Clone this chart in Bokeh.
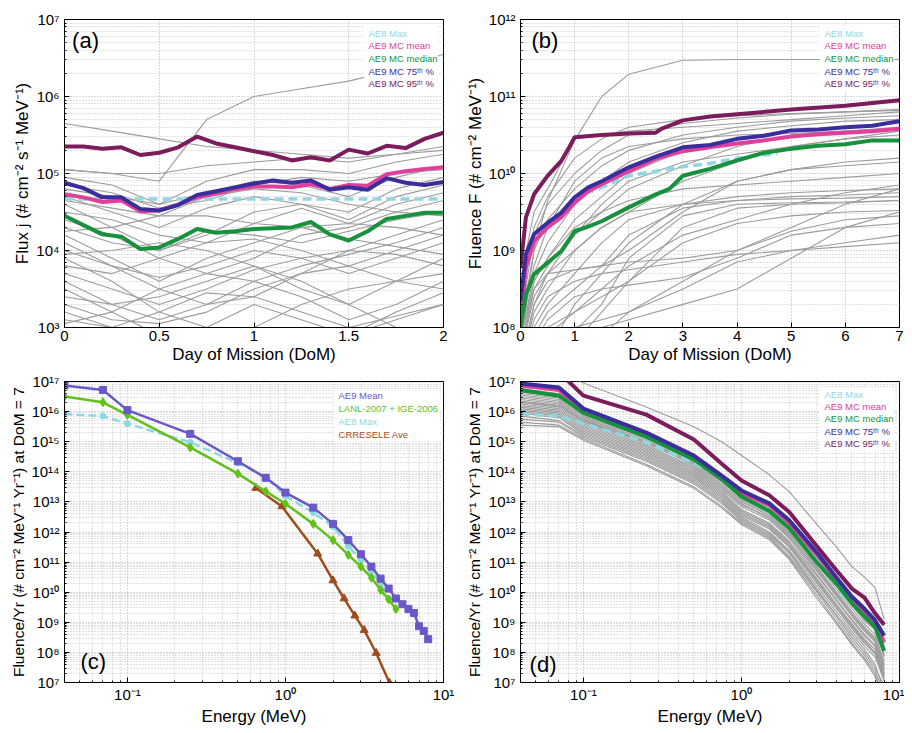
import numpy as np
from bokeh.plotting import figure
from bokeh.layouts import column, row
from bokeh.models import FixedTicker, CustomJSTickFormatter, Label, BoxAnnotation, Range1d
from bokeh.embed import file_html
from bokeh.resources import INLINE

FONT = "Liberation Sans"

# ---------------- data (log10 of the plotted values) -------------
# panel (a): flux vs day of mission
a_x = [0.0, 0.1, 0.2, 0.3, 0.4, 0.5, 0.6, 0.7, 0.8, 0.9, 1.0,
       1.1, 1.2, 1.3, 1.4, 1.5, 1.6, 1.7, 1.8, 1.9, 2.0]
a_p95 = [5.35, 5.35, 5.32, 5.34, 5.24, 5.27, 5.34, 5.48, 5.39, 5.34, 5.29,
         5.24, 5.17, 5.21, 5.17, 5.31, 5.26, 5.36, 5.33, 5.45, 5.53]
a_p75 = [4.88, 4.81, 4.69, 4.69, 4.54, 4.52, 4.59, 4.72, 4.77, 4.82, 4.87,
         4.91, 4.88, 4.91, 4.79, 4.82, 4.79, 4.94, 4.88, 4.85, 4.89]
a_mean = [4.73, 4.69, 4.63, 4.65, 4.51, 4.52, 4.60, 4.69, 4.74, 4.80, 4.83,
          4.83, 4.82, 4.86, 4.80, 4.85, 4.84, 4.99, 5.03, 5.06, 5.08]
a_median = [4.45, 4.33, 4.21, 4.18, 4.02, 4.04, 4.15, 4.28, 4.23, 4.25, 4.28,
            4.29, 4.30, 4.37, 4.21, 4.13, 4.25, 4.41, 4.45, 4.49, 4.49]
a_ae8_x = [0.0, 2.0]
a_ae8 = [4.67, 4.67]
a_gray_x = [0.0, 0.25, 0.5, 0.75, 1.0, 1.25, 1.5, 1.75, 2.0]
a_gray = [
    [5.65, 5.55, 5.45, 5.35, 5.30, 5.25, 5.20, 5.25, 5.35],
    [5.05, 5.00, 4.90, 5.70, 6.00, 6.10, 6.20, 6.35, 6.55],
    [5.05, 5.00, 5.00, 5.10, 5.15, 5.20, 5.15, 5.25, 5.30],
    [4.95, 4.85, 4.60, 4.90, 5.05, 5.05, 5.00, 5.15, 5.25],
    [4.80, 4.70, 4.60, 4.75, 4.90, 4.85, 4.70, 4.95, 5.10],
    [4.70, 4.50, 4.30, 4.55, 4.70, 4.60, 4.50, 4.80, 4.95],
    [4.60, 4.30, 4.00, 4.20, 4.50, 4.60, 4.40, 4.70, 4.85],
    [4.50, 4.40, 4.20, 4.10, 4.35, 4.55, 4.35, 4.60, 4.75],
    [4.40, 4.20, 3.90, 3.70, 3.90, 4.20, 4.30, 4.50, 4.65],
    [4.30, 4.10, 4.00, 4.25, 4.20, 4.10, 4.25, 4.40, 4.50],
    [4.20, 3.90, 3.60, 3.90, 4.10, 4.30, 4.35, 4.30, 4.20],
    [4.10, 3.80, 3.50, 3.30, 3.40, 3.70, 4.00, 4.20, 4.40],
    [4.00, 3.80, 3.65, 3.80, 4.00, 3.90, 3.70, 3.90, 4.10],
    [3.90, 3.60, 3.20, 3.00, 2.90, 2.80, 2.90, 3.10, 3.30],
    [3.80, 3.70, 3.90, 4.10, 4.15, 4.00, 3.80, 3.60, 3.50],
    [3.70, 3.50, 3.30, 3.50, 3.75, 3.90, 4.00, 3.95, 3.80],
    [3.60, 3.30, 3.10, 3.30, 3.60, 3.40, 3.10, 3.30, 3.60],
    [3.50, 3.20, 2.90, 2.80, 3.00, 3.30, 3.50, 3.60, 3.70],
    [3.40, 3.30, 3.40, 3.60, 3.80, 3.60, 3.30, 3.00, 2.90],
    [3.30, 3.10, 3.05, 3.20, 3.50, 3.70, 3.80, 4.00, 4.20],
    [3.20, 3.00, 2.80, 3.00, 3.30, 3.10, 2.90, 3.20, 3.45],
    [3.10, 3.00, 3.20, 3.45, 3.40, 3.20, 3.00, 3.15, 3.30],
    [4.65, 4.55, 4.45, 4.70, 4.80, 4.75, 4.60, 4.50, 4.45],
    [4.85, 4.75, 4.55, 4.65, 4.85, 4.95, 4.90, 5.00, 5.05],
    [3.95, 4.00, 4.10, 4.00, 3.80, 3.50, 3.30, 3.60, 3.90],
    [3.05, 3.20, 3.50, 3.70, 3.60, 3.80, 3.95, 4.10, 4.30],
    [4.25, 4.30, 4.45, 4.45, 4.35, 4.30, 4.15, 4.05, 3.95],
]

# panel (b): fluence vs day of mission
b_p95_x = [0, 0.1, 0.25, 0.5, 0.75, 0.9, 1.0, 1.5, 2.0, 2.5, 2.6, 3.0, 3.5, 4, 5, 6, 7]
b_p95 = [8.78, 9.43, 9.73, 9.97, 10.16, 10.34, 10.47, 10.50, 10.52, 10.53, 10.58,
         10.69, 10.74, 10.77, 10.83, 10.88, 10.95]
b_x = [0, 0.1, 0.25, 0.5, 0.75, 1.0, 1.25, 1.5, 2, 2.5, 3, 3.5, 4, 4.5, 5, 5.5, 6, 6.5, 7]
b_p75 = [8.34, 8.95, 9.21, 9.36, 9.49, 9.69, 9.82, 9.90, 10.08, 10.22, 10.34, 10.37,
         10.45, 10.49, 10.56, 10.57, 10.60, 10.62, 10.68]
b_mean = [8.13, 8.78, 9.12, 9.30, 9.43, 9.62, 9.77, 9.86, 10.03, 10.19, 10.29, 10.34,
          10.39, 10.43, 10.48, 10.51, 10.53, 10.55, 10.58]
b_median_x = [0, 0.1, 0.25, 0.5, 0.75, 1.0, 1.25, 1.5, 2, 2.5, 2.75, 3, 3.5, 4, 4.5,
              5, 5.5, 6, 6.5, 7]
b_median = [8.00, 8.43, 8.69, 8.84, 8.99, 9.25, 9.31, 9.38, 9.56, 9.73, 9.80, 9.97,
            10.06, 10.17, 10.27, 10.32, 10.36, 10.38, 10.43, 10.43]
b_ae8_x = [1.2, 1.5, 2, 2.5, 3, 3.5, 4, 4.5, 4.75]
b_ae8 = [9.74, 9.82, 9.97, 10.03, 10.09, 10.13, 10.20, 10.24, 10.26]
b_gray_x = [0, 0.05, 0.25, 0.5, 1, 1.5, 2, 3, 4, 5, 6, 7]
b_gray = [
    [6.5, 8.0, 9.0, 9.64, 10.43, 11.0, 11.29, 11.47, 11.48, 11.48, 11.48, 11.48],
    [6.5, 8.8, 9.5, 9.8, 10.45, 10.5, 10.55, 10.6, 10.65, 10.7, 10.75, 10.8],
    [6.5, 8.3, 9.2, 9.6, 10.0, 10.3, 10.5, 10.65, 10.72, 10.77, 10.8, 10.83],
    [6.5, 8.2, 9.0, 9.4, 9.8, 10.1, 10.3, 10.5, 10.6, 10.68, 10.72, 10.75],
    [6.5, 8.0, 8.7, 9.1, 9.6, 9.9, 10.15, 10.4, 10.55, 10.62, 10.68, 10.7],
    [6.5, 8.0, 8.6, 8.9, 9.4, 9.7, 10.0, 10.3, 10.45, 10.55, 10.6, 10.65],
    [6.5, 7.9, 8.5, 8.8, 9.2, 9.5, 9.8, 10.1, 10.35, 10.5, 10.55, 10.6],
    [6.5, 7.8, 8.4, 8.7, 9.0, 9.3, 9.5, 9.9, 10.15, 10.35, 10.45, 10.5],
    [6.5, 7.9, 8.6, 8.9, 9.3, 9.5, 9.65, 9.8, 9.85, 9.9, 9.95, 10.0],
    [6.5, 7.8, 8.5, 8.7, 8.75, 8.8, 9.0, 9.5, 9.9, 10.05, 10.15, 10.2],
    [6.5, 7.7, 8.3, 8.6, 8.75, 8.8, 8.85, 8.9, 9.0, 9.25, 9.4, 9.45],
    [6.5, 7.6, 8.2, 8.5, 9.0, 9.3, 9.5, 9.6, 9.65, 9.7, 9.72, 9.75],
    [6.5, 7.5, 8.0, 8.3, 8.7, 9.1, 9.4, 9.6, 9.7, 9.75, 9.78, 9.8],
    [6.5, 7.5, 8.1, 8.4, 8.6, 8.7, 8.75, 8.85, 8.95, 9.0, 9.05, 9.1],
    [6.5, 7.4, 7.9, 8.2, 8.5, 8.8, 9.2, 9.55, 9.65, 9.67, 9.68, 9.7],
    [6.5, 7.3, 7.8, 8.1, 8.4, 8.5, 8.55, 8.65, 8.9, 9.2, 9.3, 9.35],
    [6.5, 7.3, 7.7, 8.0, 8.2, 8.4, 8.6, 9.3, 9.55, 9.6, 9.62, 9.65],
    [6.5, 7.2, 7.6, 7.9, 8.2, 8.5, 8.8, 9.2, 9.4, 9.6, 9.75, 9.85],
    [6.5, 7.2, 7.5, 7.8, 8.0, 8.1, 8.2, 8.5, 8.85, 9.0, 9.1, 9.2],
    [6.5, 7.1, 7.4, 7.7, 7.95, 8.3, 8.9, 9.45, 9.6, 9.62, 9.63, 9.65],
    [6.5, 7.0, 7.3, 7.6, 7.9, 8.0, 8.1, 8.3, 8.5, 8.9, 9.3, 9.5],
    [6.5, 7.0, 7.2, 7.5, 7.8, 8.2, 8.6, 9.1, 9.35, 9.45, 9.5, 9.52],
    [6.5, 7.0, 7.3, 7.7, 8.3, 8.7, 9.1, 9.6, 9.9, 10.05, 10.1, 10.15],
    [6.5, 7.0, 7.2, 7.4, 7.7, 7.9, 8.2, 8.6, 9.0, 9.3, 9.6, 9.8],
    [6.5, 8.5, 9.3, 9.7, 10.2, 10.45, 10.6, 10.7, 10.75, 10.78, 10.8, 10.82],
    [6.5, 8.1, 8.8, 9.3, 9.9, 10.2, 10.35, 10.45, 10.5, 10.52, 10.55, 10.58],
    [6.5, 7.6, 8.3, 8.7, 9.2, 9.6, 9.9, 10.15, 10.25, 10.35, 10.45, 10.55],
]

# panel (c): spectra at DoM = 7
c_ae9_E = [0.04, 0.07, 0.1, 0.25, 0.5, 0.75, 1, 1.5, 2, 2.5, 3, 3.5, 4, 4.5, 5,
           5.5, 6, 6.5, 7, 7.5, 8]
c_ae9 = [16.87, 16.72, 16.05, 15.26, 14.35, 13.80, 13.31, 12.81, 12.27, 11.73, 11.26,
         10.85, 10.45, 10.12, 9.79, 9.60, 9.44, 9.31, 8.87, 8.71, 8.44]
c_lanl_E = [0.04, 0.07, 0.1, 0.25, 0.5, 0.75, 1, 1.5, 2, 2.5, 3, 3.5, 4, 4.5, 5]
c_lanl = [16.50, 16.31, 15.89, 14.81, 13.94, 13.35, 12.94, 12.27, 11.73, 11.24, 10.85,
          10.48, 10.07, 9.76, 9.44]
c_ae8_E = [0.04, 0.07, 0.1, 0.25, 0.5, 0.75, 1, 1.5, 2, 2.5, 3, 3.5, 4, 4.5]
c_ae8 = [15.92, 15.85, 15.60, 14.98, 14.29, 13.83, 13.20, 12.64, 12.18, 11.53, 11.07,
         10.70, 10.30, 9.79]
c_crr_E = [0.65, 0.95, 1.6, 2.0, 2.35, 2.75, 3.15, 3.75, 4.55]
c_crr = [13.46, 12.85, 11.28, 10.39, 9.79, 9.22, 8.74, 7.98, 6.99]

# panel (d): Monte-Carlo spectra at DoM = 7
d_E = [0.04, 0.07, 0.1, 0.25, 0.5, 0.75, 1, 1.5, 2, 3, 4, 5, 6, 7, 8]
d_p95 = [17.45, 17.31, 16.53, 15.90, 15.07, 14.27, 13.71, 13.22, 12.67, 11.53, 10.72,
         10.12, 9.82, 9.30, 8.92]
d_p75 = [16.93, 16.80, 16.10, 15.30, 14.54, 13.87, 13.38, 12.95, 12.40, 11.32, 10.48,
         9.85, 9.45, 9.07, 8.55]
d_mean = [16.87, 16.72, 16.05, 15.26, 14.50, 13.84, 13.30, 12.90, 12.32, 11.25, 10.42,
          9.78, 9.38, 9.00, 8.33]
d_median = [16.72, 16.53, 15.96, 15.17, 14.41, 13.76, 13.18, 12.70, 12.13, 10.99, 10.28,
            9.63, 9.20, 8.85, 8.05]
d_gray = [
    [17.5, 17.3, 16.95, 16.15, 15.5, 15.0, 14.55, 13.9, 13.35, 12.25, 11.5, 10.85, 10.5, 10.15, 9.1],
    [16.75, 16.6, 16.0, 15.2, 14.45, 13.8, 13.25, 12.8, 12.25, 11.15, 10.35, 9.7, 9.2, 8.9, 8.0],
    [16.65, 16.5, 15.9, 15.1, 14.35, 13.7, 13.1, 12.65, 12.1, 11.0, 10.2, 9.55, 9.05, 8.75, 7.85],
    [16.55, 16.4, 15.85, 15.05, 14.3, 13.65, 13.15, 12.7, 12.15, 10.95, 10.1, 9.45, 8.95, 8.6, 7.7],
    [16.5, 16.35, 15.8, 15.0, 14.2, 13.55, 13.0, 12.55, 11.95, 10.85, 10.0, 9.35, 8.85, 8.5, 7.55],
    [16.45, 16.3, 15.75, 14.95, 14.25, 13.6, 13.05, 12.6, 12.0, 10.8, 9.95, 9.3, 8.8, 8.45, 7.6],
    [16.4, 16.25, 15.7, 14.9, 14.15, 13.5, 12.95, 12.45, 11.85, 10.7, 9.85, 9.2, 8.7, 8.35, 7.45],
    [16.35, 16.2, 15.65, 14.85, 14.1, 13.45, 12.9, 12.5, 11.9, 10.75, 9.9, 9.25, 8.75, 8.4, 7.4],
    [16.3, 16.15, 15.6, 14.8, 14.05, 13.4, 12.85, 12.4, 11.8, 10.6, 9.75, 9.1, 8.6, 8.25, 7.3],
    [16.25, 16.1, 15.55, 14.75, 14.0, 13.35, 12.75, 12.3, 11.7, 10.55, 9.7, 9.05, 8.55, 8.2, 7.25],
    [16.2, 16.05, 15.5, 14.7, 13.95, 13.3, 12.7, 12.25, 11.65, 10.45, 9.6, 8.95, 8.45, 8.1, 7.2],
    [16.15, 16.0, 15.45, 14.65, 13.9, 13.25, 12.65, 12.2, 11.6, 10.4, 9.55, 8.9, 8.4, 8.0, 7.1],
    [16.1, 15.95, 15.4, 14.6, 13.85, 13.2, 12.6, 12.15, 11.55, 10.35, 9.5, 8.85, 8.35, 8.0, 7.3],
    [16.05, 15.9, 15.35, 14.55, 13.8, 13.15, 12.55, 12.1, 11.5, 10.3, 9.45, 8.8, 8.3, 7.95, 7.2],
    [16.0, 15.85, 15.3, 14.5, 13.75, 13.1, 12.5, 12.0, 11.4, 10.2, 9.35, 8.7, 8.2, 7.85, 7.05],
    [15.95, 15.8, 15.25, 14.45, 13.7, 13.05, 12.45, 11.95, 11.35, 10.1, 9.25, 8.6, 8.1, 7.6, 6.7],
    [15.85, 15.7, 15.2, 14.4, 13.65, 13.0, 12.4, 11.9, 11.3, 10.05, 9.2, 8.5, 8.0, 7.5, 6.9],
    [15.75, 15.65, 15.15, 14.35, 13.6, 12.95, 12.35, 11.85, 11.2, 10.0, 9.1, 8.4, 7.9, 7.4, 6.6],
    [15.65, 15.55, 15.1, 14.25, 13.5, 12.85, 12.3, 11.8, 11.15, 9.9, 9.0, 8.3, 7.8, 7.3, 6.5],
    [15.55, 15.5, 15.05, 14.2, 13.45, 12.8, 12.25, 11.75, 11.1, 9.8, 8.95, 8.25, 7.75, 7.2, 6.4],
    [16.6, 16.45, 15.95, 15.25, 14.5, 13.9, 13.35, 12.9, 12.35, 11.2, 10.4, 9.75, 9.3, 8.95, 8.2],
    [16.3, 16.2, 15.7, 15.0, 14.3, 13.7, 13.2, 12.75, 12.2, 11.05, 10.25, 9.6, 9.1, 8.8, 7.9],
]

# tick labels / text
mc_labels = ["AE8 Max", "AE9 MC mean", "AE9 MC median", "AE9 MC 75ᵗʰ %", "AE9 MC 95ᵗʰ %"]
c_labels = ["AE9 Mean", "LANL-2007 + IGE-2006", "AE8 Max", "CRRESELE Ave"]

# colours
C_AE8 = "#8ed8e3"
C_MEAN = "#e0409b"
C_MED = "#18913c"
C_P75 = "#3a2e9c"
C_P95 = "#7b1c5c"
C_GRAY = "#9c9c9c"
C_AE9 = "#6a58c8"
C_LANL = "#62c01a"
C_CRR = "#a04c1c"
mc_colors = [C_AE8, C_MEAN, C_MED, C_P75, C_P95]
c_colors = [C_AE9, C_LANL, C_AE8, C_CRR]


def lin(v):
    return [10.0 ** e for e in v]


LOG_CODE = """
const m = {"0":"\u2070","1":"\u00b9","2":"\u00b2","3":"\u00b3","4":"\u2074","5":"\u2075",
           "6":"\u2076","7":"\u2077","8":"\u2078","9":"\u2079","-":"\u207b"};
const e = Math.round(Math.log10(tick));
let s = "";
for (const c of String(e)) { s += m[c]; }
return "10" + s;
"""


def log_ticker(lo, hi):
    major = [10.0 ** k for k in range(lo, hi + 1)]
    minor = [m * 10.0 ** k for k in range(lo, hi) for m in range(2, 10)]
    return FixedTicker(ticks=major, minor_ticks=minor)


def make_fig(w, h, xr, yr, xlog, ylog, bl, br, bt, bb, xlabel, ylabel, ylabel_size="17px"):
    p = figure(width=w, height=h, x_range=Range1d(*xr), y_range=Range1d(*yr),
               x_axis_type="log" if xlog else "linear",
               y_axis_type="log" if ylog else "linear",
               output_backend="svg", toolbar_location=None,
               min_border_left=bl, min_border_right=br, min_border_top=bt, min_border_bottom=bb)
    p.outline_line_color = "black"
    p.outline_line_width = 1
    p.outline_line_alpha = 1
    p.background_fill_color = "white"
    p.border_fill_color = "white"
    for ax in (p.xaxis[0], p.yaxis[0]):
        ax.axis_line_color = "black"
        ax.major_tick_in = 5
        ax.major_tick_out = 0
        ax.minor_tick_in = 2
        ax.minor_tick_out = 0
        ax.major_tick_line_color = "black"
        ax.minor_tick_line_color = "black"
        ax.major_label_text_font = FONT
        ax.major_label_text_font_size = "15px"
        ax.major_label_text_color = "black"
        ax.axis_label_text_font = FONT
        ax.axis_label_text_font_style = "normal"
        ax.axis_label_text_color = "black"
        ax.axis_label_standoff = 1
    p.xaxis[0].major_label_standoff = 3
    p.yaxis[0].major_label_standoff = 5
    p.xaxis[0].axis_label = xlabel
    p.yaxis[0].axis_label = ylabel
    p.xaxis[0].axis_label_text_font_size = "17px"
    p.yaxis[0].axis_label_text_font_size = ylabel_size
    for g in (p.xgrid[0], p.ygrid[0]):
        g.grid_line_color = "#b0b0b0"
        g.grid_line_dash = "1 2"
        g.minor_grid_line_color = "#c4c4c4"
        g.minor_grid_line_dash = "1 2"
    return p


def set_ticks(p, axis, ticker, formatter):
    if axis == "x":
        p.xaxis[0].ticker = ticker
        p.xgrid[0].ticker = ticker
        p.xaxis[0].formatter = formatter
    else:
        p.yaxis[0].ticker = ticker
        p.ygrid[0].ticker = ticker
        p.yaxis[0].formatter = formatter


def frac(p, fx, fy_top, xlog, ylog):
    xs, xe = p.x_range.start, p.x_range.end
    ys, ye = p.y_range.start, p.y_range.end
    if xlog:
        x = 10 ** (np.log10(xs) + fx * (np.log10(xe) - np.log10(xs)))
    else:
        x = xs + fx * (xe - xs)
    fy = 1.0 - fy_top
    if ylog:
        y = 10 ** (np.log10(ys) + fy * (np.log10(ye) - np.log10(ys)))
    else:
        y = ys + fy * (ye - ys)
    return float(x), float(y)


def legend(p, labels, colors, xlog, ylog, fx, fy0, dfy, box):
    l, t = frac(p, box[0], box[1], xlog, ylog)
    r, b = frac(p, box[2], box[3], xlog, ylog)
    p.add_layout(BoxAnnotation(left=l, right=r, top=t, bottom=b, fill_color="white",
                               fill_alpha=1.0, line_alpha=0))
    for i, (lab, col) in enumerate(zip(labels, colors)):
        x, y = frac(p, fx, fy0 + i * dfy, xlog, ylog)
        p.add_layout(Label(x=x, y=y, text=lab, text_color=col, text_font=FONT,
                           text_font_size="9.5px", text_baseline="middle", text_align="left"))


def panel_label(p, text, fx, fy, xlog, ylog):
    x, y = frac(p, fx, fy, xlog, ylog)
    p.add_layout(Label(x=x, y=y, text=text, text_color="black", text_font=FONT,
                       text_font_size="22px", text_baseline="middle", text_align="left"))


plain_fmt = CustomJSTickFormatter(code="return String(tick);")

# ---------------- panel (a) ----------------
pa = make_fig(456, 368, (0, 2), (1e3, 1e7), False, True, 64, 13, 19, 41,
              "Day of Mission (DoM)", "Flux j (# cm⁻² s⁻¹ MeV⁻¹)")
set_ticks(pa, "x", FixedTicker(ticks=[0, 0.5, 1, 1.5, 2], minor_ticks=[]), plain_fmt)
set_ticks(pa, "y", log_ticker(3, 7), CustomJSTickFormatter(code=LOG_CODE))
pa.multi_line([a_gray_x] * len(a_gray), [lin(r) for r in a_gray], line_color=C_GRAY, line_width=1.1)
pa.line(a_ae8_x, lin(a_ae8), line_color=C_AE8, line_width=3.5, line_dash="9 5")
pa.line(a_x, lin(a_median), line_color=C_MED, line_width=4)
pa.line(a_x, lin(a_mean), line_color=C_MEAN, line_width=4)
pa.line(a_x, lin(a_p75), line_color=C_P75, line_width=4)
pa.line(a_x, lin(a_p95), line_color=C_P95, line_width=4)
legend(pa, mc_labels, mc_colors, False, True, 0.802, 0.045, 0.041, (0.79, 0.02, 0.985, 0.23))
panel_label(pa, "(a)", 0.02, 0.068, False, True)

# ---------------- panel (b) ----------------
pb = make_fig(448, 368, (0, 7), (1e8, 1e12), False, True, 64, 5, 19, 41,
              "Day of Mission (DoM)", "Fluence F (# cm⁻² MeV⁻¹)")
set_ticks(pb, "x", FixedTicker(ticks=list(range(0, 8)), minor_ticks=[]), plain_fmt)
set_ticks(pb, "y", log_ticker(8, 12), CustomJSTickFormatter(code=LOG_CODE))
pb.multi_line([b_gray_x] * len(b_gray), [lin(r) for r in b_gray], line_color=C_GRAY, line_width=1.1)
pb.line(b_ae8_x, lin(b_ae8), line_color=C_AE8, line_width=3.5, line_dash="9 5")
pb.line(b_x, lin(b_mean), line_color=C_MEAN, line_width=4)
pb.line(b_median_x, lin(b_median), line_color=C_MED, line_width=4)
pb.line(b_x, lin(b_p75), line_color=C_P75, line_width=4)
pb.line(b_p95_x, lin(b_p95), line_color=C_P95, line_width=4)
legend(pb, mc_labels, mc_colors, False, True, 0.802, 0.045, 0.041, (0.79, 0.02, 0.985, 0.23))
panel_label(pb, "(b)", 0.029, 0.068, False, True)

# ---------------- panel (c) ----------------
YL = "Fluence/Yr (# cm⁻² MeV⁻¹ Yr⁻¹) at DoM = 7"
e_ticker_major = [0.1, 1.0, 10.0]
e_ticker_minor = [0.04, 0.05, 0.06, 0.07, 0.08, 0.09] + [m * 0.1 for m in range(2, 10)] + \
                 [float(m) for m in range(2, 10)]

pc = make_fig(456, 360, (0.04, 10), (1e7, 1e17), True, True, 64, 13, 13, 41,
              "Energy (MeV)", YL, ylabel_size="15.5px")
set_ticks(pc, "x", FixedTicker(ticks=e_ticker_major, minor_ticks=e_ticker_minor),
          CustomJSTickFormatter(code=LOG_CODE))
set_ticks(pc, "y", log_ticker(7, 17), CustomJSTickFormatter(code=LOG_CODE))
pc.line(c_ae8_E, lin(c_ae8), line_color=C_AE8, line_width=2.5, line_dash="8 4")
pc.scatter(c_ae8_E, lin(c_ae8), marker="circle", size=6, color=C_AE8)
pc.line(c_crr_E, lin(c_crr), line_color=C_CRR, line_width=2.5)
pc.scatter(c_crr_E, lin(c_crr), marker="triangle", size=8, color=C_CRR)
pc.line(c_lanl_E, lin(c_lanl), line_color=C_LANL, line_width=2.5)
pc.scatter(c_lanl_E, lin(c_lanl), marker="diamond", size=9, color=C_LANL)
pc.line(c_ae9_E, lin(c_ae9), line_color=C_AE9, line_width=2.5)
pc.scatter(c_ae9_E, lin(c_ae9), marker="square", size=7, color=C_AE9)
legend(pc, c_labels, c_colors, True, True, 0.723, 0.048, 0.043, (0.71, 0.025, 0.99, 0.2))
panel_label(pc, "(c)", 0.042, 0.93, True, True)

# ---------------- panel (d) ----------------
pd = make_fig(448, 360, (0.04, 10), (1e7, 1e17), True, True, 64, 5, 13, 41,
              "Energy (MeV)", YL, ylabel_size="15.5px")
set_ticks(pd, "x", FixedTicker(ticks=e_ticker_major, minor_ticks=e_ticker_minor),
          CustomJSTickFormatter(code=LOG_CODE))
set_ticks(pd, "y", log_ticker(7, 17), CustomJSTickFormatter(code=LOG_CODE))
pd.multi_line([d_E] * len(d_gray), [lin(r) for r in d_gray], line_color=C_GRAY, line_width=1.1)
pd.line(c_ae8_E, lin(c_ae8), line_color=C_AE8, line_width=3.5, line_dash="9 5")
pd.line(d_E, lin(d_mean), line_color=C_MEAN, line_width=4)
pd.line(d_E, lin(d_median), line_color=C_MED, line_width=4)
pd.line(d_E, lin(d_p75), line_color=C_P75, line_width=4)
pd.line(d_E, lin(d_p95), line_color=C_P95, line_width=4)
legend(pd, mc_labels, mc_colors, True, True, 0.802, 0.042, 0.041, (0.79, 0.02, 0.985, 0.23))
panel_label(pd, "(d)", 0.024, 0.94, True, True)

layout = column(row(pa, pb), row(pc, pd))
with open("out.html", "w", encoding="utf-8") as f:
    f.write(file_html(layout, INLINE))
